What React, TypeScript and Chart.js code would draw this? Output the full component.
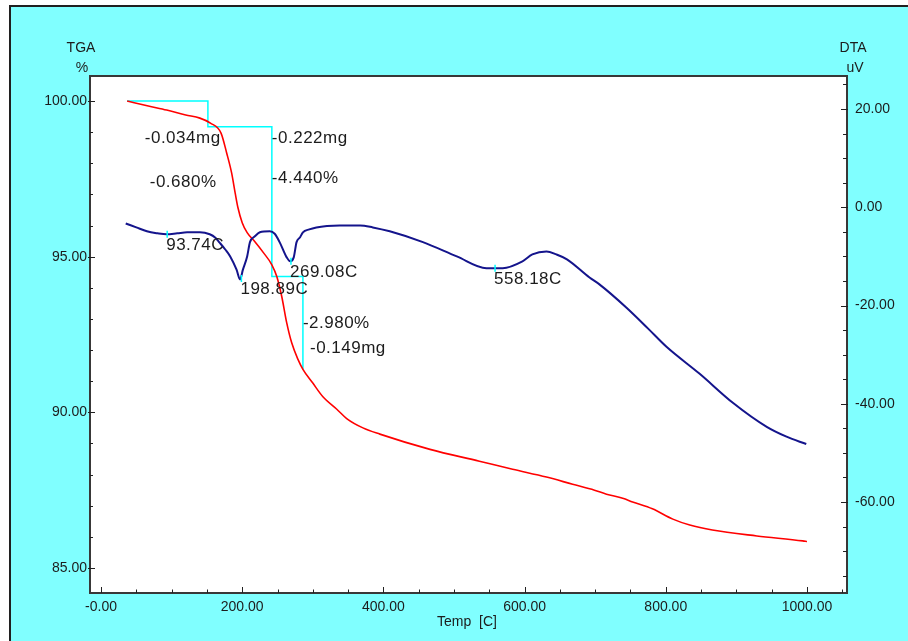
import React, { useEffect, useRef } from "react";
import { Chart, registerables } from "chart.js";

Chart.register(...registerables);

// TGA curve (temperature in C, mass in %)
const tgaTemp = [37, 67, 93, 120, 140, 155, 170, 178, 185, 190, 194, 200, 207, 218, 230, 242, 249, 256, 263, 270, 279, 286, 300, 314, 334, 348, 371, 395, 466, 536, 583, 631, 668, 699, 716, 739, 753, 781, 810, 834, 866, 929, 994, 1000];
const tgaValue = [100.0, 99.84, 99.71, 99.55, 99.45, 99.29, 98.97, 98.33, 97.69, 97.05, 96.57, 96.09, 95.77, 95.48, 95.13, 94.74, 94.36, 93.72, 92.88, 92.24, 91.7, 91.38, 90.94, 90.51, 90.1, 89.8, 89.5, 89.3, 88.81, 88.43, 88.17, 87.92, 87.69, 87.5, 87.37, 87.24, 87.12, 86.9, 86.57, 86.38, 86.22, 86.03, 85.87, 85.85];

// DTA curve (temperature in C, signal in uV)
const dtaTemp = [35, 50, 65, 80, 93, 108, 122, 140, 154, 162, 168, 176, 183, 192, 197, 201, 207, 211, 218, 225, 239, 246, 253, 263, 268, 273, 277, 282, 286, 295, 305, 320, 338, 367, 385, 409, 456, 504, 546, 569, 597, 611, 631, 645, 660, 692, 706, 744, 775, 801, 848, 895, 943, 971, 999];
const dtaValue = [-3.3, -4.1, -4.9, -5.3, -5.5, -5.3, -5.1, -5.1, -5.5, -6.2, -7.2, -8.6, -10.0, -12.7, -14.7, -12.7, -10.0, -7.1, -5.9, -5.1, -4.9, -5.4, -7.1, -10.2, -11.0, -10.2, -7.1, -6.1, -5.1, -4.5, -4.1, -3.8, -3.7, -3.7, -4.1, -4.9, -7.1, -10.0, -12.4, -12.4, -11.0, -9.6, -9.0, -9.6, -10.6, -14.3, -15.7, -20.4, -24.7, -28.4, -33.9, -39.8, -44.7, -46.7, -48.2];

// TGA step analysis
const stepTemp = [37, 151.4, 151.4, 242, 242, 286, 286];
const stepValue = [100.0, 100.0, 99.17, 99.17, 94.36, 94.36, 91.38];
const stepLabels = ["-0.034mg", "-0.680%", "-0.222mg", "-4.440%", "-2.980%", "-0.149mg"];
const stepLabelTemp = [62, 69, 242, 242, 286, 296];
const stepLabelValue = [98.81, 97.4, 98.81, 97.53, 92.87, 92.07];

// DTA peaks
const peakTemp = [93.74, 198.89, 269.08, 558.18];
const peakValue = [-5.5, -14.5, -11.0, -12.4];
const peakLabels = ["93.74C", "198.89C", "269.08C", "558.18C"];

// Axes
const xTicks = [0, 200, 400, 600, 800, 1000];
const xTickLabels = ["-0.00", "200.00", "400.00", "600.00", "800.00", "1000.00"];
const tgaTicks = [85, 90, 95, 100];
const tgaTickLabels = ["85.00", "90.00", "95.00", "100.00"];
const dtaTicks = [-60, -40, -20, 0, 20];
const dtaTickLabels = ["-60.00", "-40.00", "-20.00", "0.00", "20.00"];

const FONT = "'Liberation Sans', Arial, sans-serif";
const TEXT = "#1c1c1c";

export default function App() {
  const ref = useRef<HTMLCanvasElement | null>(null);

  useEffect(() => {
    document.body.style.margin = "0";
    const canvas = ref.current;
    if (!canvas) return;

    const framePlugin = {
      id: "frame",
      beforeDraw(chart: any) {
        const { ctx, width, height, chartArea: a } = chart;
        ctx.save();
        ctx.fillStyle = "#ffffff";
        ctx.fillRect(0, 0, width, height);
        ctx.fillStyle = "#80FFFF";
        ctx.fillRect(10, 6, width - 10, height - 6);
        ctx.strokeStyle = "#202020";
        ctx.lineWidth = 2;
        ctx.beginPath();
        ctx.moveTo(10, height);
        ctx.lineTo(10, 6);
        ctx.lineTo(width, 6);
        ctx.stroke();
        ctx.fillStyle = "#ffffff";
        ctx.fillRect(a.left, a.top, a.right - a.left, a.bottom - a.top);
        ctx.restore();
      },
      afterDraw(chart: any) {
        const { ctx, chartArea: a, scales } = chart;
        const sx = scales.x, sl = scales.yL, sr = scales.yR;
        ctx.save();
        // plot border
        ctx.strokeStyle = "#383838";
        ctx.lineWidth = 2;
        ctx.strokeRect(a.left, a.top, a.right - a.left, a.bottom - a.top);
        // ticks
        ctx.lineWidth = 1;
        ctx.strokeStyle = "#202020";
        ctx.beginPath();
        for (let v = 0; v <= 1050; v += 50) {
          const px = Math.round(sx.getPixelForValue(v)) + 0.5;
          const len = v % 200 === 0 ? 6 : 3.5;
          ctx.moveTo(px, a.bottom);
          ctx.lineTo(px, a.bottom - len);
        }
        for (let v = 85; v <= 100; v += 1) {
          const py = Math.round(sl.getPixelForValue(v)) + 0.5;
          if (v % 5 === 0) {
            ctx.moveTo(a.left - 2, py);
            ctx.lineTo(a.left + 5, py);
          } else {
            ctx.moveTo(a.left, py);
            ctx.lineTo(a.left + 3, py);
          }
        }
        for (let v = -75; v <= 25; v += 5) {
          const py = Math.round(sr.getPixelForValue(v)) + 0.5;
          if (v % 20 === 0) {
            ctx.moveTo(a.right + 1, py);
            ctx.lineTo(a.right - 6, py);
          } else {
            ctx.moveTo(a.right, py);
            ctx.lineTo(a.right - 4, py);
          }
        }
        ctx.stroke();
        // axis titles
        ctx.fillStyle = TEXT;
        ctx.font = `14px ${FONT}`;
        ctx.textAlign = "center";
        ctx.textBaseline = "middle";
        ctx.fillText("TGA", 81, 48);
        ctx.fillText("%", 82, 68);
        ctx.fillText("DTA", 853, 48);
        ctx.fillText("uV", 855, 68);
        ctx.fillText("Temp  [C]", 467, 622);
        // annotations
        ctx.font = `17px ${FONT}`;
        try { (ctx as any).letterSpacing = "0.5px"; } catch (e) {}
        ctx.textAlign = "left";
        stepLabels.forEach((t, i) => {
          ctx.fillText(t, sx.getPixelForValue(stepLabelTemp[i]), sl.getPixelForValue(stepLabelValue[i]));
        });
        peakLabels.forEach((t, i) => {
          ctx.fillText(t, sx.getPixelForValue(peakTemp[i]) - 1, sr.getPixelForValue(peakValue[i]) + 11);
        });
        try { (ctx as any).letterSpacing = "0px"; } catch (e) {}
        ctx.restore();
      },
    };

    const tickFont = { family: FONT, size: 14 };

    const chart = new Chart(canvas, {
      type: "line",
      data: {
        datasets: [
          {
            label: "TGA step",
            data: stepTemp.map((x, i) => ({ x, y: stepValue[i] })),
            yAxisID: "yL",
            borderColor: "#00FFFF",
            borderWidth: 1.5,
            pointRadius: 0,
            tension: 0,
            order: 4,
          },
          {
            label: "TGA",
            data: tgaTemp.map((x, i) => ({ x, y: tgaValue[i] })),
            yAxisID: "yL",
            borderColor: "#FF0000",
            borderWidth: 1.6,
            pointRadius: 0,
            cubicInterpolationMode: "monotone",
            order: 3,
          },
          {
            label: "DTA",
            data: dtaTemp.map((x, i) => ({ x, y: dtaValue[i] })),
            yAxisID: "yR",
            borderColor: "#14148C",
            borderWidth: 2,
            pointRadius: 0,
            cubicInterpolationMode: "monotone",
            order: 2,
          },
          {
            type: "scatter",
            label: "peaks",
            data: peakTemp.map((x, i) => ({ x, y: peakValue[i] })),
            yAxisID: "yR",
            pointStyle: "line",
            rotation: 90,
            pointRadius: 3.5,
            borderColor: "#00FFFF",
            backgroundColor: "#00FFFF",
            borderWidth: 1.5,
            showLine: false,
            order: 1,
          } as any,
        ],
      },
      options: {
        responsive: false,
        animation: false,
        devicePixelRatio: 1,
        layout: { padding: { top: 76, left: 0, right: 0, bottom: 0 } },
        plugins: { legend: { display: false }, tooltip: { enabled: false } },
        scales: {
          x: {
            type: "linear",
            min: -15.6,
            max: 1056.7,
            afterBuildTicks: (s: any) => {
              s.ticks = xTicks.map((v) => ({ value: v }));
            },
            afterFit: (s: any) => {
              s.height = 48;
            },
            grid: { display: false, drawTicks: false },
            border: { display: false },
            ticks: {
              font: tickFont,
              color: TEXT,
              padding: 6,
              maxRotation: 0,
              autoSkip: false,
              callback: (v: any) => {
                const i = xTicks.indexOf(Number(v));
                return i >= 0 ? xTickLabels[i] : "";
              },
            },
          },
          yL: {
            type: "linear",
            position: "left",
            min: 84.197,
            max: 100.803,
            afterBuildTicks: (s: any) => {
              s.ticks = tgaTicks.map((v) => ({ value: v }));
            },
            afterFit: (s: any) => {
              s.width = 90;
            },
            grid: { display: false, drawTicks: false },
            border: { display: false },
            ticks: {
              font: tickFont,
              color: TEXT,
              padding: 3,
              autoSkip: false,
              callback: (v: any) => {
                const i = tgaTicks.indexOf(Number(v));
                return i >= 0 ? tgaTickLabels[i] : "";
              },
            },
          },
          yR: {
            type: "linear",
            position: "right",
            min: -78.52,
            max: 26.72,
            afterBuildTicks: (s: any) => {
              s.ticks = dtaTicks.map((v) => ({ value: v }));
            },
            afterFit: (s: any) => {
              s.width = 61;
            },
            grid: { display: false, drawTicks: false },
            border: { display: false },
            ticks: {
              font: tickFont,
              color: TEXT,
              padding: 8,
              autoSkip: false,
              callback: (v: any) => {
                const i = dtaTicks.indexOf(Number(v));
                return i >= 0 ? dtaTickLabels[i] : "";
              },
            },
          },
        },
      },
      plugins: [framePlugin],
    } as any);

    return () => {
      chart.destroy();
    };
  }, []);

  return (
    <div style={{ width: 908, height: 641, position: "relative" }}>
      <canvas ref={ref} width={908} height={641} style={{ display: "block" }} />
    </div>
  );
}
